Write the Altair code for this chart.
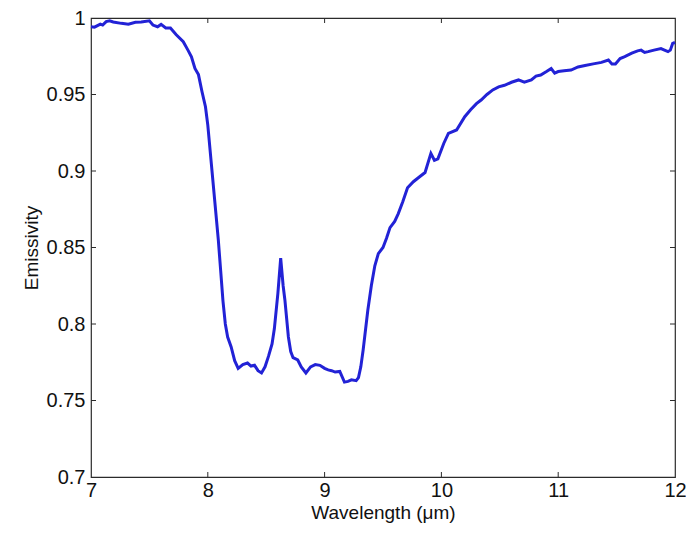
import altair as alt
import pandas as pd

wavelength = [7.00, 7.03, 7.08, 7.10, 7.13, 7.16, 7.19, 7.26, 7.32, 7.38, 7.43, 7.50, 7.53, 7.57, 7.60,
              7.64, 7.68, 7.73, 7.79, 7.83, 7.86, 7.89, 7.92, 7.95, 7.98, 8.00, 8.03, 8.06, 8.09, 8.11,
              8.13, 8.15, 8.17, 8.20, 8.23, 8.26, 8.30, 8.34, 8.37, 8.40, 8.43, 8.46, 8.49, 8.52, 8.55,
              8.57, 8.60, 8.624, 8.645, 8.66, 8.69, 8.71, 8.73, 8.77, 8.80, 8.84, 8.88, 8.92, 8.96, 9.00,
              9.03, 9.06, 9.09, 9.13, 9.17, 9.20, 9.23, 9.27, 9.29, 9.31, 9.33, 9.37, 9.40, 9.43, 9.46,
              9.50, 9.53, 9.56, 9.60, 9.63, 9.67, 9.71, 9.76, 9.80, 9.86, 9.91, 9.94, 9.97, 10.02, 10.06,
              10.13, 10.20, 10.25, 10.30, 10.34, 10.39, 10.44, 10.49, 10.54, 10.60, 10.66, 10.71, 10.77,
              10.81, 10.85, 10.90, 10.94, 10.97, 11.00, 11.05, 11.11, 11.17, 11.23, 11.30, 11.37, 11.43,
              11.46, 11.49, 11.53, 11.57, 11.63, 11.68, 11.71, 11.74, 11.77, 11.82, 11.88, 11.91, 11.94,
              11.96, 11.98, 12.00]
emissivity = [0.9943, 0.9940, 0.9960, 0.9954, 0.9976, 0.9982, 0.9974, 0.9965, 0.9960, 0.9972, 0.9974,
              0.9982, 0.9954, 0.9943, 0.9958, 0.9935, 0.9935, 0.9890, 0.9845, 0.9790, 0.9747, 0.9670,
              0.9630, 0.9520, 0.9420, 0.9300, 0.9050, 0.8800, 0.8550, 0.8350, 0.8150, 0.8000, 0.7915,
              0.7850, 0.7760, 0.7710, 0.7735, 0.7745, 0.7725, 0.7730, 0.7695, 0.7680, 0.7720, 0.7790,
              0.7870, 0.7970, 0.8200, 0.8430, 0.8250, 0.8157, 0.7915, 0.7820, 0.7780, 0.7765, 0.7720,
              0.7680, 0.7720, 0.7735, 0.7730, 0.7710, 0.7700, 0.7695, 0.7686, 0.7690, 0.7620, 0.7625,
              0.7635, 0.7630, 0.7650, 0.7720, 0.7830, 0.8090, 0.8250, 0.8380, 0.8460, 0.8500, 0.8560,
              0.8630, 0.8670, 0.8720, 0.8800, 0.8890, 0.8930, 0.8954, 0.8990, 0.9115, 0.9070, 0.9080,
              0.9180, 0.9246, 0.9268, 0.9355, 0.9400, 0.9440, 0.9464, 0.9500, 0.9530, 0.9550, 0.9560,
              0.9580, 0.9595, 0.9580, 0.9595, 0.9620, 0.9627, 0.9650, 0.9670, 0.9640, 0.9650, 0.9655,
              0.9660, 0.9680, 0.9690, 0.9700, 0.9710, 0.9725, 0.9700, 0.9700, 0.9735, 0.9747, 0.9770,
              0.9785, 0.9790, 0.9775, 0.9780, 0.9790, 0.9800, 0.9790, 0.9780, 0.9790, 0.9834, 0.9840]

x_ticks = [7, 8, 9, 10, 11, 12]
y_ticks = [0.7, 0.75, 0.8, 0.85, 0.9, 0.95, 1.0]

W, H = 584, 459
FONT = "Liberation Sans"
AX = "#2b2b2b"

df = pd.DataFrame({"wavelength": wavelength, "emissivity": emissivity})
xt = pd.DataFrame({"t": x_ticks[1:-1]})
yt = pd.DataFrame({"t": y_ticks[1:-1]})

xscale = alt.Scale(domain=[7, 12], nice=False, zero=False)
yscale = alt.Scale(domain=[0.7, 1.0], nice=False, zero=False)

line = alt.Chart(df).mark_line(color="#2222d6", strokeWidth=3).encode(
    x=alt.X("wavelength:Q", scale=xscale,
            axis=alt.Axis(title="Wavelength (\u03bcm)", values=x_ticks, ticks=False, domain=False,
                          grid=False, labelFontSize=20, labelFont=FONT, labelColor="#111",
                          labelPadding=3, format="d", titleFontSize=19, titleFont=FONT,
                          titleFontWeight="normal", titleColor="#111", titlePadding=3,
                          labelFlush=False)),
    y=alt.Y("emissivity:Q", scale=yscale,
            axis=alt.Axis(title="Emissivity", values=y_ticks, ticks=False, domain=False, grid=False,
                          labelFontSize=20, labelFont=FONT, labelColor="#111", labelPadding=6,
                          format="~g", titleFontSize=19, titleFont=FONT, titleFontWeight="normal",
                          titleColor="#111", titlePadding=5, labelFlush=False)),
)

tick_x_bottom = alt.Chart(xt).mark_rule(color=AX, strokeWidth=1).encode(
    x=alt.X("t:Q", scale=xscale), y=alt.value(H), y2=alt.value(H - 5))
tick_x_top = alt.Chart(xt).mark_rule(color=AX, strokeWidth=1).encode(
    x=alt.X("t:Q", scale=xscale), y=alt.value(0), y2=alt.value(5))
tick_y_left = alt.Chart(yt).mark_rule(color=AX, strokeWidth=1).encode(
    y=alt.Y("t:Q", scale=yscale), x=alt.value(0), x2=alt.value(5))
tick_y_right = alt.Chart(yt).mark_rule(color=AX, strokeWidth=1).encode(
    y=alt.Y("t:Q", scale=yscale), x=alt.value(W), x2=alt.value(W - 5))

chart = alt.layer(tick_x_bottom, tick_x_top, tick_y_left, tick_y_right, line).properties(
    width=W, height=H,
    autosize=alt.AutoSizeParams(type="none"),
    padding={"left": 83, "top": 10, "right": 11, "bottom": 48},
    background="white",
).configure_view(stroke=AX, strokeWidth=1.2)

chart.save("out.html", embed_options={"renderer": "svg", "actions": False})
